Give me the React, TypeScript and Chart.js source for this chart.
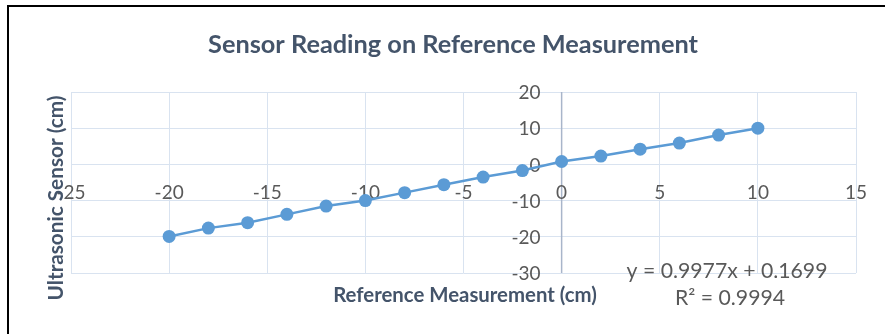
import React, { useEffect, useRef } from "react";
import { Chart, registerables } from "chart.js";

Chart.register(...registerables);

const chartTitle = "Sensor Reading on Reference Measurement";
const xAxisTitle = "Reference Measurement (cm)";
const yAxisTitle = "Ultrasonic Sensor (cm)";
const equationText = "y = 0.9977x + 0.1699";
const r2Text = "R² = 0.9994";

const refMeasurement = [-20, -18, -16, -14, -12, -10, -8, -6, -4, -2, 0, 2, 4, 6, 8, 10];
const sensorReading = [-19.9, -17.6, -16.1, -13.8, -11.5, -10.0, -7.8, -5.6, -3.5, -1.7, 0.8, 2.3, 4.2, 5.9, 8.1, 10.0];

const xTicks = [-25, -20, -15, -10, -5, 0, 5, 10, 15];
const yTicks = [-30, -20, -10, 0, 10, 20];

const FONT = "Lato, 'Open Sans', sans-serif";
const LABEL = "#595959";
const DARK = "#44546A";

function fitText(ctx: CanvasRenderingContext2D, text: string, weight: string, width: number) {
  ctx.font = `${weight} 20px ${FONT}`;
  const w = ctx.measureText(text).width;
  const size = (20 * width) / w;
  ctx.font = `${weight} ${size.toFixed(2)}px ${FONT}`;
}

const overlay = {
  id: "overlay",
  beforeDatasetsDraw(chart: any) {
    const { ctx, scales } = chart;
    const xs = scales.x;
    const ys = scales.y;
    ctx.save();
    // outer frame
    ctx.strokeStyle = "#000";
    ctx.lineWidth = 2;
    ctx.strokeRect(8, 6, 1000, 1000);

    // vertical axis line at x = 0
    const x0 = xs.getPixelForValue(0);
    ctx.strokeStyle = "#A8B5CA";
    ctx.lineWidth = 1.5;
    ctx.beginPath();
    ctx.moveTo(x0, ys.top);
    ctx.lineTo(x0, ys.bottom);
    ctx.stroke();

    // title
    ctx.fillStyle = DARK;
    fitText(ctx, chartTitle, "bold", 490);
    ctx.textAlign = "center";
    ctx.textBaseline = "middle";
    ctx.fillText(chartTitle, 453, 45);

    // tick labels
    ctx.fillStyle = LABEL;
    ctx.font = `19px ${FONT}`;
    ctx.textAlign = "center";
    for (const v of xTicks) {
      ctx.fillText(String(v), xs.getPixelForValue(v), 193);
    }
    ctx.textAlign = "right";
    for (const v of yTicks) {
      ctx.fillText(String(v), x0 - 21, ys.getPixelForValue(v) + 1);
    }

    // axis titles
    ctx.fillStyle = DARK;
    fitText(ctx, xAxisTitle, "bold", 264);
    ctx.textAlign = "center";
    ctx.fillText(xAxisTitle, 465, 295);
    ctx.save();
    fitText(ctx, yAxisTitle, "bold", 205);
    ctx.translate(56, 198);
    ctx.rotate(-Math.PI / 2);
    ctx.fillText(yAxisTitle, 0, 0);
    ctx.restore();

    // trendline label
    ctx.fillStyle = LABEL;
    fitText(ctx, equationText, "normal", 201);
    ctx.fillText(equationText, 727, 271);
    ctx.fillText(r2Text, 730, 298);
    ctx.restore();
  },
};

export default function App() {
  const ref = useRef<HTMLCanvasElement | null>(null);
  useEffect(() => {
    if (!ref.current) return;
    const chart = new Chart(ref.current, {
      type: "scatter",
      data: {
        datasets: [
          {
            data: refMeasurement.map((x, i) => ({ x, y: sensorReading[i] })),
            showLine: true,
            borderColor: "#5B9BD5",
            backgroundColor: "#5B9BD5",
            borderWidth: 2.5,
            pointRadius: 6.5,
            pointBorderWidth: 0,
          },
        ],
      },
      options: {
        animation: false,
        responsive: false,
        maintainAspectRatio: false,
        layout: { padding: { left: 71, right: 29, top: 92, bottom: 61 } },
        plugins: { legend: { display: false }, title: { display: false }, tooltip: { enabled: false } },
        scales: {
          x: {
            type: "linear",
            min: -25,
            max: 15,
            ticks: { display: false, stepSize: 5 },
            grid: { color: "#D9E3F0", lineWidth: 1, drawTicks: false },
            border: { display: false },
          },
          y: {
            type: "linear",
            min: -30,
            max: 20,
            ticks: { display: false, stepSize: 10 },
            grid: { color: "#D9E3F0", lineWidth: 1, drawTicks: false },
            border: { display: false },
          },
        },
      },
      plugins: [overlay],
    });
    return () => chart.destroy();
  }, []);
  return (
    <div style={{ position: "fixed", left: 0, top: 0, width: 885, height: 334, background: "#fff" }}>
      <canvas ref={ref} width={885} height={334} style={{ display: "block" }} />
    </div>
  );
}
